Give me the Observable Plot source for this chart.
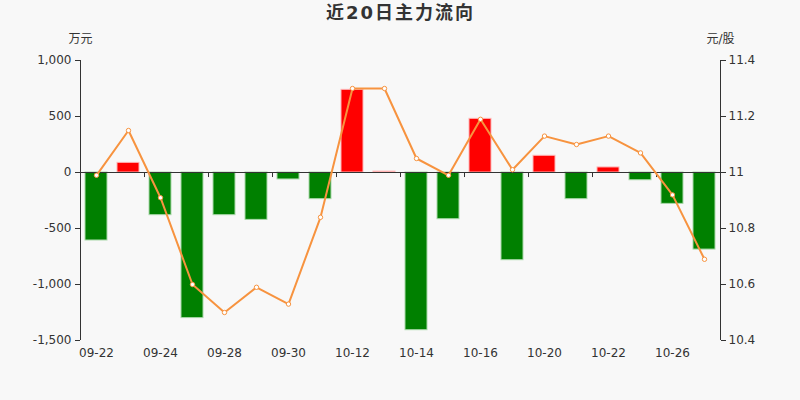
<!DOCTYPE html>
<html>
<head>
<meta charset="utf-8">
<script src="https://cdn.jsdelivr.net/npm/d3@7"></script>
<script src="https://cdn.jsdelivr.net/npm/@observablehq/plot@0.6"></script>
<style>
  html, body { margin: 0; padding: 0; background: #f8f8f8; }
  svg { display: block; }
</style>
</head>
<body>
<div id="chart"></div>
<script>
const dates = ["09-22","09-23","09-24","09-25","09-28","09-29","09-30","10-09","10-12","10-13",
               "10-14","10-15","10-16","10-19","10-20","10-21","10-22","10-23","10-26","10-27"];
const flows = [-607, 86, -381, -1300, -381, -423, -62, -238, 738, 8,
               -1408, -417, 479, -783, 149, -238, 45, -69, -280, -688];
const prices = [10.99, 11.15, 10.91, 10.60, 10.50, 10.59, 10.53, 10.84, 11.30, 11.30,
                11.05, 10.99, 11.19, 11.01, 11.13, 11.10, 11.13, 11.07, 10.92, 10.69];
const leftTicks = [-1500, -1000, -500, 0, 500, 1000];
const labelDates = dates.filter((d, i) => i % 2 === 0);
const tickDates = dates.filter((d, i) => i % 2 === 1);
const titleText = "近20日主力流向";

// map price axis [10.4, 11.4] onto flow axis [-1500, 1000]
const pMin = 10.4, pMax = 11.4, fMin = -1500, fMax = 1000;
const toFlow = p => fMin + (p - pMin) / (pMax - pMin) * (fMax - fMin);
const toPrice = f => pMin + (f - fMin) / (fMax - fMin) * (pMax - pMin);

const data = dates.map((d, i) => ({date: d, flow: flows[i], price: prices[i]}));
const font = "DejaVu Sans, 'Noto Sans CJK SC', sans-serif";
const fmtLeft = d => d.toLocaleString("en-US");
const fmtRight = d => String(+toPrice(d).toFixed(1));

const chart = Plot.plot({
  width: 800,
  height: 400,
  marginLeft: 80,
  marginRight: 80,
  marginTop: 60,
  marginBottom: 60,
  style: {background: "#f8f8f8", fontFamily: font, fontSize: "12px", color: "#333"},
  x: {type: "band", domain: dates, paddingInner: 0.31, paddingOuter: 0.155, axis: null, label: null},
  y: {domain: [fMin, fMax], axis: null, label: null},
  marks: [
    Plot.barY(data, {
      x: "date", y: "flow",
      fill: d => d.flow >= 0 ? "#ff0000" : "#008000",
      stroke: d => d.flow >= 0 ? "#ffb3b3" : "#a8d8a8",
      strokeWidth: 1
    }),
    Plot.ruleY([0], {stroke: "#333", strokeWidth: 1}),
    Plot.ruleX(tickDates, {x: d => d, y1: 0, y2: -45, dx: 16, stroke: "#333"}),
    Plot.ruleX([dates[0]], {x: d => d, y1: fMin, y2: fMax, dx: -16, stroke: "#333"}),
    Plot.ruleX([dates[dates.length - 1]], {x: d => d, y1: fMin, y2: fMax, dx: 16, stroke: "#333"}),
    Plot.axisX({ticks: labelDates, tickSize: 0, tickPadding: 8, fontSize: 12, fill: "#333", label: null}),
    Plot.axisY({anchor: "left", ticks: leftTicks, tickFormat: fmtLeft, tickSize: 5, tickPadding: 4,
                stroke: "#333", fill: "#333", label: null, fontSize: 12}),
    Plot.axisY({anchor: "right", ticks: leftTicks, tickFormat: fmtRight, tickSize: 5, tickPadding: 3,
                stroke: "#333", fill: "#333", label: null, fontSize: 12}),
    Plot.line(data, {x: "date", y: d => toFlow(d.price), stroke: "#f7933f", strokeWidth: 2}),
    Plot.dot(data, {x: "date", y: d => toFlow(d.price), r: 2.2, fill: "white", stroke: "#f7933f", strokeWidth: 1}),
    Plot.text(["万元"], {frameAnchor: "top-left", lineAnchor: "middle", dy: -21, textAnchor: "middle", fontSize: 12, fill: "#333"}),
    Plot.text(["元/股"], {frameAnchor: "top-right", lineAnchor: "middle", dy: -21, textAnchor: "middle", fontSize: 12, fill: "#333"}),
    Plot.text([titleText], {frameAnchor: "top", lineAnchor: "middle", dy: -47, textAnchor: "middle", fontSize: 18, fontWeight: "bold", fill: "#333"})
  ]
});
d3.select(chart).selectAll("text").filter(function() { return this.textContent === titleText; })
  .style("letter-spacing", "2px");
document.getElementById("chart").appendChild(chart);
</script>
</body>
</html>
